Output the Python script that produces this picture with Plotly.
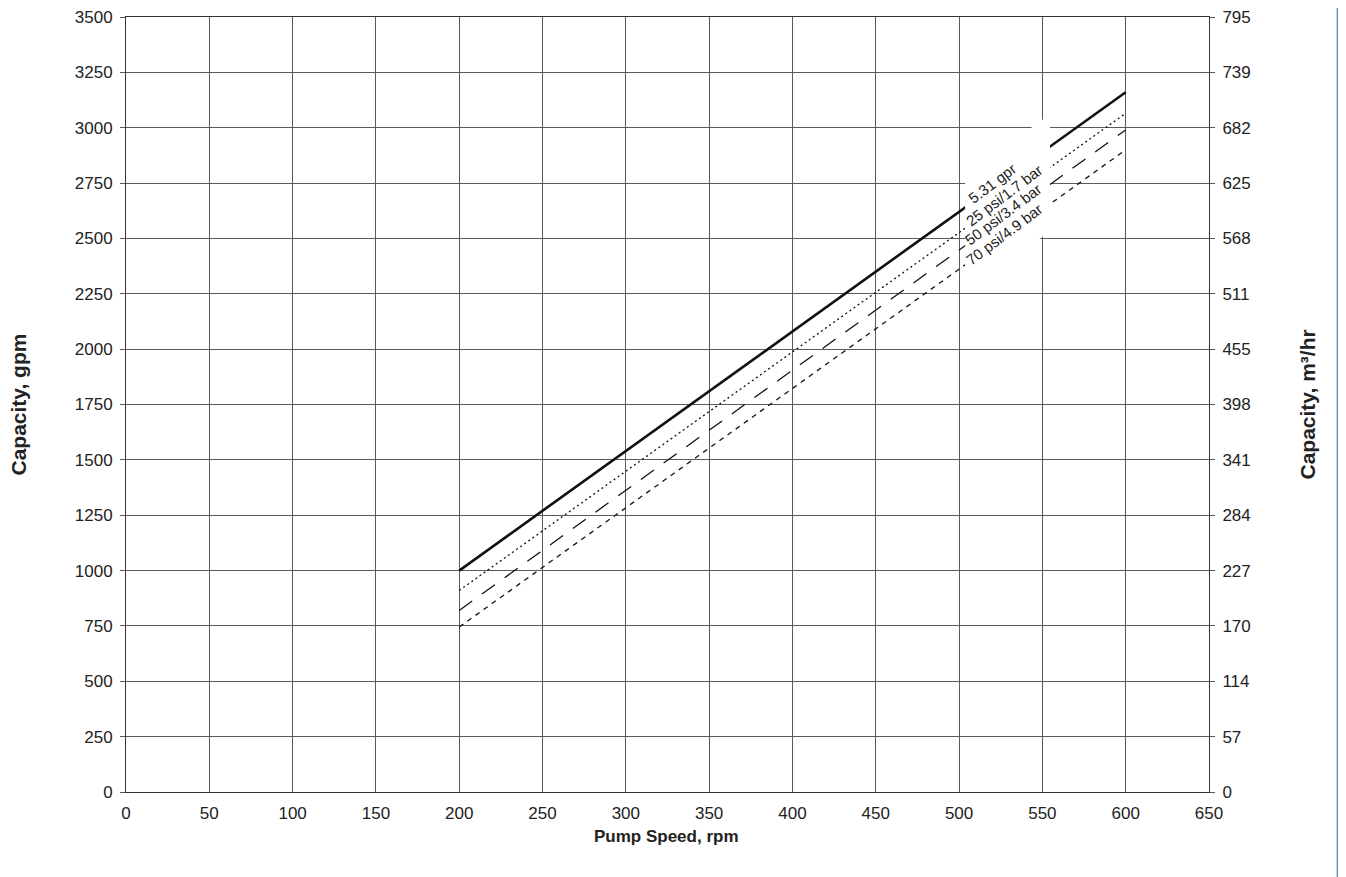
import plotly.graph_objects as go

# ---- data ----
pump_speed = [200, 600]
cap_531_gpr = [1000, 3160]
cap_25_psi = [910, 3065]
cap_50_psi = [820, 2990]
cap_70_psi = [745, 2900]

x_ticks = list(range(0, 651, 50))
y_ticks = list(range(0, 3501, 250))
y2_ticktext = ["0", "57", "114", "170", "227", "284", "341", "398", "455",
               "511", "568", "625", "682", "739", "795"]

series_labels = ["5.31 gpr", "25 psi/1.7 bar", "50 psi/3.4 bar", "70 psi/4.9 bar"]
label_x = [519.8, 527.0, 526.4, 527.0]
label_y = [2746, 2692, 2606, 2516]

TICKFONT = "Liberation Sans, Arial, sans-serif"
TITLEFONT = "Liberation Sans, Arial, sans-serif"

fig = go.Figure()
styles = [
    (cap_531_gpr, dict(color="#111", width=2.6, dash="solid")),
    (cap_25_psi, dict(color="#111", width=1.3, dash="2px,3px")),
    (cap_50_psi, dict(color="#111", width=1.3, dash="16px,12px")),
    (cap_70_psi, dict(color="#111", width=1.3, dash="5px,5px")),
]
for vals, ln in styles:
    fig.add_trace(go.Scatter(x=pump_speed, y=vals, mode="lines", line=ln,
                             showlegend=False, hoverinfo="skip"))
# invisible trace so the right axis is drawn
fig.add_trace(go.Scatter(x=pump_speed, y=cap_531_gpr, yaxis="y2", mode="lines",
                         line=dict(width=0), opacity=0, showlegend=False,
                         hoverinfo="skip"))

grid = "#5a5a5a"
tickfont = dict(family=TICKFONT, size=17, color="#222")
fig.update_layout(
    width=1338, height=869,
    margin=dict(l=118, r=137, t=9, b=85, autoexpand=False),
    paper_bgcolor="white", plot_bgcolor="white",
    xaxis=dict(range=[0, 650], tickvals=x_ticks, showgrid=True, gridcolor=grid,
               gridwidth=1, zeroline=False, showline=True, linecolor="#333",
               linewidth=1, mirror=True, ticks="", ticklabelstandoff=6,
               automargin=False, ticklabeloverflow="allow", tickfont=tickfont),
    yaxis=dict(range=[0, 3500], tickvals=y_ticks, showgrid=True, gridcolor=grid,
               gridwidth=1, zeroline=False, showline=True, linecolor="#333",
               linewidth=1, mirror=True, ticks="outside", ticklen=5,
               tickcolor=grid, ticklabelstandoff=4, automargin=False,
               ticklabeloverflow="allow", tickfont=tickfont),
    yaxis2=dict(range=[0, 3500], overlaying="y", side="right", tickvals=y_ticks,
                ticktext=y2_ticktext, showgrid=False, zeroline=False,
                showline=False, ticks="outside", ticklen=5, tickcolor=grid,
                ticklabelstandoff=4, automargin=False,
                ticklabeloverflow="allow", tickfont=tickfont),
)

# white mask behind the curve labels (parallelogram following the curves)
fig.add_shape(type="path",
              path="M 503.6 2785 L 554.6 3061 L 554.6 2532 L 503.6 2256 Z",
              xref="x", yref="y", fillcolor="white", line=dict(width=0),
              layer="above")

for txt, lx, ly in zip(series_labels, label_x, label_y):
    fig.add_annotation(x=lx, y=ly, xref="x", yref="y", text=txt, showarrow=False,
                       textangle=-37, xanchor="center", yanchor="middle",
                       font=dict(family=TICKFONT, size=15, color="#222"))

# axis titles
fig.add_annotation(x=-0.0997, y=0.5, xref="paper", yref="paper",
                   text="<b>Capacity, gpm</b>", textangle=-90, showarrow=False,
                   xanchor="center", yanchor="middle",
                   font=dict(family=TITLEFONT, size=21, color="#222"))
fig.add_annotation(x=1.0905, y=0.5, xref="paper", yref="paper",
                   text="<b>Capacity, m³/hr</b>", textangle=-90, showarrow=False,
                   xanchor="center", yanchor="middle",
                   font=dict(family=TITLEFONT, size=21, color="#222"))
fig.add_annotation(x=0.4995, y=-0.0568, xref="paper", yref="paper",
                   text="<b>Pump Speed, rpm</b>", showarrow=False,
                   xanchor="center", yanchor="middle",
                   font=dict(family=TITLEFONT, size=17, color="#222"))

# blue vertical rule at the right edge
fig.add_shape(type="line", xref="paper", yref="paper", x0=1.119, x1=1.119,
              y0=-0.12, y1=1.03, line=dict(color="#4f96c8", width=2.5))

fig.write_html("out.html")
